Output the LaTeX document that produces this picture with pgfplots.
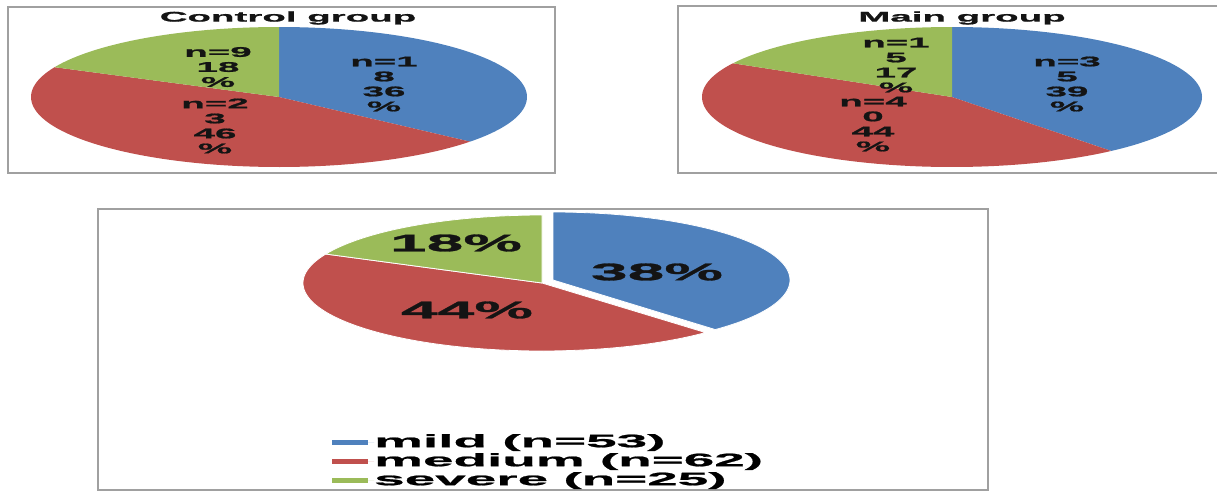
\documentclass[border=0pt]{standalone}
\usepackage{pgfplots}
\pgfplotsset{compat=1.18}
\usepackage{fontspec}
\setmainfont{Liberation Sans}
\newfontfamily\wide{Liberation Sans}[FakeStretch=2.75, BoldFeatures={FakeBold=1.2}]
\newfontfamily\wider{Liberation Sans}[FakeStretch=3.05, BoldFeatures={FakeBold=1.2}]

\definecolor{cblue}{HTML}{4F81BD}
\definecolor{cred}{HTML}{C0504D}
\definecolor{cgreen}{HTML}{9BBB59}
\definecolor{framec}{HTML}{A0A0A0}
\definecolor{labc}{HTML}{141414}

% #1 cx, #2 cy, #3 rx, #4 ry, #5 start percent, #6 end percent, #7 style
\newcommand{\pieslice}[7]{%
  \addplot[#7, domain={90-3.6*(#6)}:{90-3.6*(#5)}, samples=90, variable=\t]
    ({#1+#3*cos(\t)}, {#2-#4*sin(\t)}) -- (axis cs:#1,#2) -- cycle;
}

\begin{document}
\begin{tikzpicture}
\begin{axis}[
  width=1218pt, height=493pt, scale only axis,
  xmin=0, xmax=1218, ymin=0, ymax=493, y dir=reverse,
  hide axis, clip=false,
  legend style={at={(axis cs:332,434)}, anchor=north west, draw=none, fill=none,
    font=\wider\bfseries\fontsize{18}{18}\selectfont, row sep=2pt,
    inner sep=0pt, nodes={inner sep=0pt, text height=13pt, text depth=4pt}},
  legend cell align=left,
  legend image code/.code={\fill[#1] (0pt,-2.5pt) rectangle (36pt,2.5pt); \path (0pt,0pt) -- (42pt,0pt);},
]
\path (axis cs:0,0) rectangle (axis cs:1218,493);

% frames
\draw[framec, line width=1.2pt] (axis cs:8,7) rectangle (axis cs:555,173);
\draw[framec, line width=1.2pt] (axis cs:1217,6) -- (axis cs:678,6) -- (axis cs:678,173) -- (axis cs:1217,173);
\draw[framec, line width=1.2pt] (axis cs:98,209) rectangle (axis cs:988,490);

% Control group: mild 18 (36%), medium 23 (46%), severe 9 (18%)
\pieslice{279}{97}{248}{70}{0}{36}{fill=cblue, draw=none, forget plot}
\pieslice{279}{97}{248}{70}{36}{82}{fill=cred, draw=none, forget plot}
\pieslice{279}{97}{248}{70}{82}{100}{fill=cgreen, draw=none, forget plot}

% Main group: mild 35 (39%), medium 40 (44%), severe 15 (17%)
\pieslice{952}{97}{250}{70}{0}{39}{fill=cblue, draw=none, forget plot}
\pieslice{952}{97}{250}{70}{39}{83}{fill=cred, draw=none, forget plot}
\pieslice{952}{97}{250}{70}{83}{100}{fill=cgreen, draw=none, forget plot}

% Overall: mild 53 (38%), medium 62 (44%), severe 25 (18%)
\pieslice{553}{280}{237}{68}{0}{38}{fill=cblue, draw=white, line width=0.8pt, forget plot}
\pieslice{542}{283}{239}{68}{38}{82}{fill=cred, draw=white, line width=0.8pt, forget plot}
\pieslice{542}{283}{239}{68}{82}{100}{fill=cgreen, draw=white, line width=0.8pt, forget plot}

\addlegendimage{fill=cblue, draw=none}
\addlegendentry{mild (n=53)}
\addlegendimage{fill=cred, draw=none}
\addlegendentry{medium (n=62)}
\addlegendimage{fill=cgreen, draw=none}
\addlegendentry{severe (n=25)}

\begin{scope}[every node/.style={inner sep=0pt, align=center, text=labc, font=\wide\bfseries\fontsize{14}{15}\selectfont}]
\node at (axis cs:288,18) {Control group};
\node at (axis cs:962,18) {Main group};
\node at (axis cs:384,84) {n=1\\8\\36\\\%};
\node at (axis cs:218,67) {n=9\\18\\\%};
\node at (axis cs:215,126) {n=2\\3\\46\\\%};
\node at (axis cs:1067,84) {n=3\\5\\39\\\%};
\node at (axis cs:896,65) {n=1\\5\\17\\\%};
\node at (axis cs:873,124) {n=4\\0\\44\\\%};
\end{scope}
\begin{scope}[every node/.style={inner sep=0pt, text=labc, font=\wide\bfseries\fontsize{24}{24}\selectfont}]
\node at (axis cs:456,243) {18\%};
\node at (axis cs:657,272) {38\%};
\node at (axis cs:467,310) {44\%};
\end{scope}
\end{axis}
\end{tikzpicture}
\end{document}
